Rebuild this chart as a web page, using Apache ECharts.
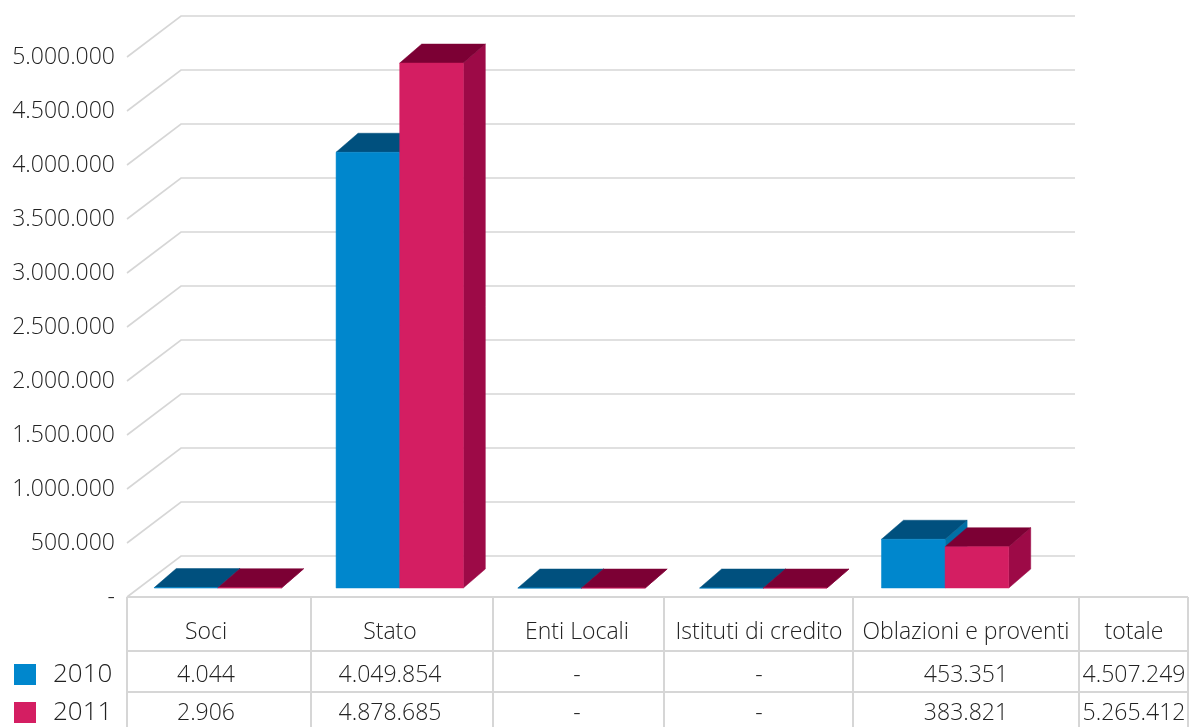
<!DOCTYPE html>
<html><head><meta charset="utf-8">
<script src="https://cdn.jsdelivr.net/npm/echarts@6/dist/echarts.min.js"></script>
<style>html,body{margin:0;padding:0;background:#fff}#c{width:1190px;height:727px}</style>
</head><body><div id="c"></div>
<script>
// ---- data ----
const categories = ['Soci', 'Stato', 'Enti Locali', 'Istituti di credito', 'Oblazioni e proventi'];
const tableHeaders = ['Soci', 'Stato', 'Enti Locali', 'Istituti di credito', 'Oblazioni e proventi', 'totale'];
const values2010 = [4044, 4049854, null, null, 453351];
const values2011 = [2906, 4878685, null, null, 383821];
const total2010 = 4507249;
const total2011 = 5265412;
const seriesNames = ['2010', '2011'];
const yTicks = [0, 500000, 1000000, 1500000, 2000000, 2500000, 3000000, 3500000, 4000000, 4500000, 5000000];

// ---- style ----
const FONT = '"Open Sans", "Noto Sans", sans-serif';
const TXT = '#222222';
const GRID = '#d6d6d6';
const palette = [
  { front: '#0087CD', top: '#00507E', side: '#0070A6' },
  { front: '#D41E62', top: '#7C0034', side: '#9D0A47' }
];
const BAR_DX = 22, BAR_DY = 19;      // bar depth
const WALL_DX = 54, WALL_DY = 41;    // wall depth

function fmt(v) {
  if (v == null || v === 0) return '-';
  return String(v).replace(/\B(?=(\d{3})+(?!\d))/g, '.');
}

function barRenderer(slot) {
  const c = palette[slot];
  return function (params, api) {
    const i = api.value(0), v = api.value(1);
    const base = api.coord([i, 0]);
    const top = api.coord([i, v]);
    const band = api.size([1, 0])[0];
    const w = band * 0.35;
    const x0 = base[0] + (slot - 1) * w, x1 = x0 + w;
    const yb = base[1], yt = top[1];
    const poly = (pts, col) => ({ type: 'polygon', shape: { points: pts }, style: { fill: col, stroke: col, lineWidth: 0.5 } });
    return {
      type: 'group',
      children: [
        poly([[x1, yt], [x1 + BAR_DX, yt - BAR_DY], [x1 + BAR_DX, yb - BAR_DY], [x1, yb]], c.side),
        poly([[x0, yt], [x0 + BAR_DX, yt - BAR_DY], [x1 + BAR_DX, yt - BAR_DY], [x1, yt]], c.top),
        poly([[x0, yt], [x1, yt], [x1, yb], [x0, yb]], c.front)
      ]
    };
  };
}

function gridRenderer(params, api) {
  const v = api.value(1);
  const p = api.coord([0, v]);
  const x0 = params.coordSys.x;
  const xEnd = params.coordSys.x + params.coordSys.width + 39;
  const y = p[1];
  return {
    type: 'polyline',
    shape: { points: [[x0, y], [x0 + WALL_DX, y - WALL_DY], [xEnd, y - WALL_DY]] },
    style: { stroke: GRID, lineWidth: 1.6, fill: null }
  };
}

// ---- table (graphic) ----
const colEdges = [127, 311, 493, 664, 853, 1079, 1188];
const colText = [206, 390, 577, 759, 966, 1134];
const rowLines = [597, 651, 692];
const rowText = [632, 675, 713];
const graphics = [];
rowLines.forEach(y => graphics.push({ type: 'line', shape: { x1: 127, y1: y, x2: 1188, y2: y }, style: { stroke: GRID, lineWidth: 2 } }));
colEdges.forEach(x => graphics.push({ type: 'line', shape: { x1: x, y1: 597, x2: x, y2: 727 }, style: { stroke: GRID, lineWidth: 2 } }));
const row1 = values2010.concat([total2010]);
const row2 = values2011.concat([total2011]);
const addText = (t, x, y, size, align) => graphics.push({ type: 'text', x: x, y: y, style: { text: t, font: '300 ' + size + 'px ' + FONT, fill: TXT, align: align, verticalAlign: 'middle' } });
tableHeaders.forEach((h, k) => {
  addText(h, colText[k], rowText[0], 23, 'center');
  addText(fmt(row1[k]), colText[k], rowText[1], 23, 'center');
  addText(fmt(row2[k]), colText[k], rowText[2], 23, 'center');
});
// legend keys beside the table rows
seriesNames.forEach((n, k) => {
  graphics.push({ type: 'rect', shape: { x: 14, y: [664, 702][k], width: 22, height: 21 }, style: { fill: palette[k].front } });
  addText(n, 53, rowText[k + 1], 26, 'left');
});

const hiddenCat = { type: 'category', data: categories, axisLine: { show: false }, axisTick: { show: false }, axisLabel: { show: false }, splitLine: { show: false } };

const chart = echarts.init(document.getElementById('c'), null, { renderer: 'canvas' });
chart.setOption({
  animation: false,
  backgroundColor: '#ffffff',
  grid: [
    { left: 127, right: 154, top: 57, bottom: 130 },   // wall / floor front plane
    { left: 127, right: 154, top: 50, bottom: 139 }    // bar front plane
  ],
  xAxis: [Object.assign({ gridIndex: 0 }, hiddenCat), Object.assign({ gridIndex: 1 }, hiddenCat)],
  yAxis: [
    {
      gridIndex: 0, type: 'value', min: 0, max: 5000000, interval: 500000,
      axisLine: { show: false }, axisTick: { show: false }, splitLine: { show: false },
      axisLabel: { formatter: v => fmt(v), margin: 12, fontFamily: FONT, fontSize: 23, fontWeight: 300, color: TXT }
    },
    {
      gridIndex: 1, type: 'value', min: 0, max: 5000000, interval: 500000, show: false,
      splitLine: { show: false }
    }
  ],
  series: [
    { type: 'custom', name: 'grid', silent: true, xAxisIndex: 0, yAxisIndex: 0, renderItem: gridRenderer,
      data: yTicks.map(v => [0, v]), encode: { x: 0, y: 1 }, z: 1 },
    { type: 'custom', name: seriesNames[0], xAxisIndex: 1, yAxisIndex: 1, renderItem: barRenderer(0), itemStyle: { color: palette[0].front },
      data: values2010.map((v, i) => [i, v == null ? 0 : v]), encode: { x: 0, y: 1 }, z: 2 },
    { type: 'custom', name: seriesNames[1], xAxisIndex: 1, yAxisIndex: 1, renderItem: barRenderer(1), itemStyle: { color: palette[1].front },
      data: values2011.map((v, i) => [i, v == null ? 0 : v]), encode: { x: 0, y: 1 }, z: 3 }
  ],
  graphic: graphics
});
</script>
</body></html>
